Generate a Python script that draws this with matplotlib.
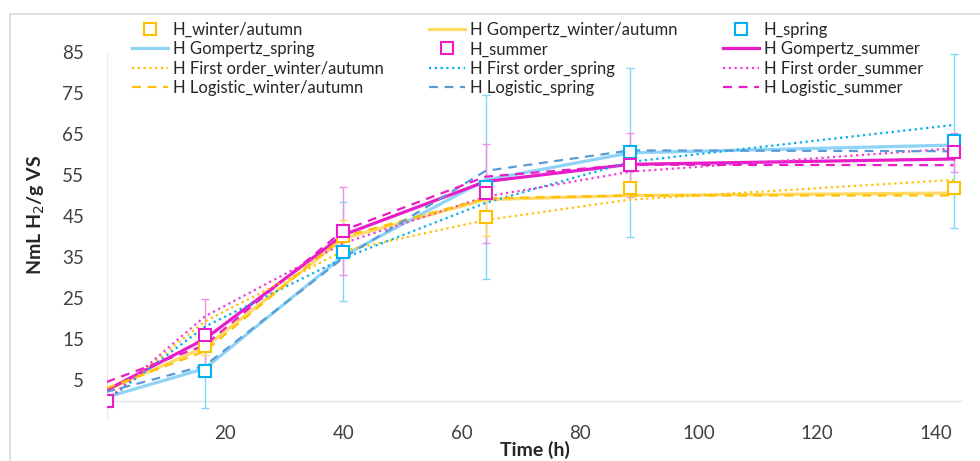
import matplotlib
matplotlib.use('Agg')
import matplotlib.pyplot as plt
from matplotlib.patches import Rectangle
from matplotlib.lines import Line2D

plt.rcParams['font.family'] = ['Lato', 'DejaVu Sans']

# Sampling times (h)
time = [0, 16.6, 40, 64, 88.4, 143]

# Measured hydrogen yields (NmL H2/g VS) and error bars
h_winter = [0, 13.3, 40.0, 44.7, 51.9, 51.8]
h_winter_err = [0, 2.2, 4.0, 4.5, 1.5, 1.5]
h_spring = [0, 7.2, 36.3, 52.0, 60.5, 63.3]
h_spring_err = [0, 9.0, 12.1, 22.4, 20.7, 21.2]
h_summer = [0, 15.9, 41.3, 50.5, 57.4, 60.5]
h_summer_err = [0, 8.8, 10.8, 12.0, 7.8, 4.8]

# Model fits
gomp_winter = [2.5, 13.0, 39.5, 49.0, 50.0, 50.6]
gomp_spring = [0.8, 7.8, 35.3, 53.8, 60.4, 62.3]
gomp_summer = [2.5, 15.0, 40.4, 53.4, 57.6, 58.9]
first_winter = [0, 19.3, 36.5, 44.0, 49.0, 53.8]
first_spring = [0, 18.0, 34.7, 48.2, 58.2, 67.2]
first_summer = [0, 20.5, 38.4, 49.7, 55.8, 61.5]
logi_winter = [3.0, 12.0, 40.0, 49.3, 50.0, 50.0]
logi_spring = [2.1, 8.5, 34.8, 56.0, 61.0, 60.8]
logi_summer = [4.5, 13.5, 41.5, 54.6, 57.5, 57.4]

yticks = [5, 15, 25, 35, 45, 55, 65, 75, 85]
xticks = [20, 40, 60, 80, 100, 120, 140]

c_win, c_win_light = '#FFC000', '#FFD966'
c_spr, c_spr_light, c_spr_dash = '#00B0F0', '#8FD3F5', '#5B9BD5'
c_sum = '#E81CC8'

fig = plt.figure(figsize=(9.8, 4.61), dpi=100)
ax = fig.add_axes([106.5 / 980, 1 - 421 / 461, (963 - 106.5) / 980, (421 - 52) / 461])

# chart border
fig.patches.append(Rectangle((10 / 980, -0.1), 1.2, (461 - 14) / 461 + 0.1, transform=fig.transFigure,
                             fill=False, edgecolor='#D9D9D9', linewidth=1.2))

# error bars
ax.errorbar(time, h_spring, yerr=h_spring_err, fmt='none', ecolor='#7FD6F7', elinewidth=1, capsize=3, zorder=2)
ax.errorbar(time, h_summer, yerr=h_summer_err, fmt='none', ecolor='#F28EE3', elinewidth=1, capsize=3, zorder=2)
ax.errorbar(time, h_winter, yerr=h_winter_err, fmt='none', ecolor=c_win_light, elinewidth=1, capsize=3, zorder=2)

handles = []
# Gompertz
handles.append(ax.plot(time, gomp_winter, color=c_win_light, lw=2.3, label='H Gompertz_winter/autumn', zorder=3)[0])
handles.append(ax.plot(time, gomp_spring, color=c_spr_light, lw=2.3, label='H Gompertz_spring', zorder=3)[0])
handles.append(ax.plot(time, gomp_summer, color=c_sum, lw=2.3, label='H Gompertz_summer', zorder=3)[0])
# First order
handles.append(ax.plot(time, first_winter, color=c_win, lw=1.6, ls=(0, (1, 1.6)), label='H First order_winter/autumn', zorder=3)[0])
handles.append(ax.plot(time, first_spring, color=c_spr, lw=1.6, ls=(0, (1, 1.6)), label='H First order_spring', zorder=3)[0])
handles.append(ax.plot(time, first_summer, color='#F23CD4', lw=1.6, ls=(0, (1, 1.6)), label='H First order_summer', zorder=3)[0])
# Logistic
handles.append(ax.plot(time, logi_winter, color=c_win, lw=1.6, ls=(0, (4, 3)), label='H Logistic_winter/autumn', zorder=3)[0])
handles.append(ax.plot(time, logi_spring, color=c_spr_dash, lw=1.6, ls=(0, (4, 3)), label='H Logistic_spring', zorder=3)[0])
handles.append(ax.plot(time, logi_summer, color=c_sum, lw=1.6, ls=(0, (4, 3)), label='H Logistic_summer', zorder=3)[0])

# measured markers
mk = dict(marker='s', ms=9, mfc='white', mew=1.5, ls='none', zorder=5)
m_w = ax.plot(time, h_winter, mec=c_win, label='H_winter/autumn', **mk)[0]
m_s = ax.plot(time, h_spring, mec=c_spr, label='H_spring', **mk)[0]
m_su = ax.plot(time, h_summer, mec=c_sum, label='H_summer', **mk)[0]

# Legend, row order as in Excel
rows = [[m_w, handles[0], m_s],
        [handles[1], m_su, handles[2]],
        handles[3:6],
        handles[6:9]]
order = [rows[r][c] for c in range(3) for r in range(4)]
leg_mk = []
for h in order:
    if h.get_marker() == 's':
        leg_mk.append(Line2D([], [], marker='s', ms=8, mfc='white', mew=1.5, mec=h.get_mec(), ls='none'))
    else:
        leg_mk.append(h)
leg = fig.legend(leg_mk, [h.get_label() for h in order], ncol=3, loc='upper left',
                 bbox_to_anchor=(132 / 980, 1 - 22 / 461), frameon=False, fontsize=12,
                 handlelength=2.15, handletextpad=0.28, columnspacing=2.75, labelspacing=0.2,
                 borderpad=0, borderaxespad=0)
for t in leg.get_texts():
    t.set_color('#262626')

ax.set_xlim(0, 144.6)
ax.set_ylim(-5, 85)
ax.set_xticks(xticks)
ax.set_yticks(yticks)
ax.tick_params(length=0, labelsize=13.5, labelcolor='#404040')
ax.tick_params(axis='y', pad=16)
ax.tick_params(axis='x', pad=3)
for s in ax.spines.values():
    s.set_visible(False)
ax.axhline(0, color='#E3E3E3', lw=1, zorder=1)
ax.axvline(0, color='#EDEDED', lw=1, zorder=1)

fig.text(535 / 980, 1 - 450 / 461, 'Time (h)', ha='center', va='center', fontsize=14, fontweight='bold', color='#262626')
fig.text(36 / 980, 1 - 215 / 461, 'NmL H$_2$/g VS', ha='center', va='center', rotation=90, fontsize=14,
         fontweight='bold', color='#262626')

fig.savefig('out.png', dpi=100)
